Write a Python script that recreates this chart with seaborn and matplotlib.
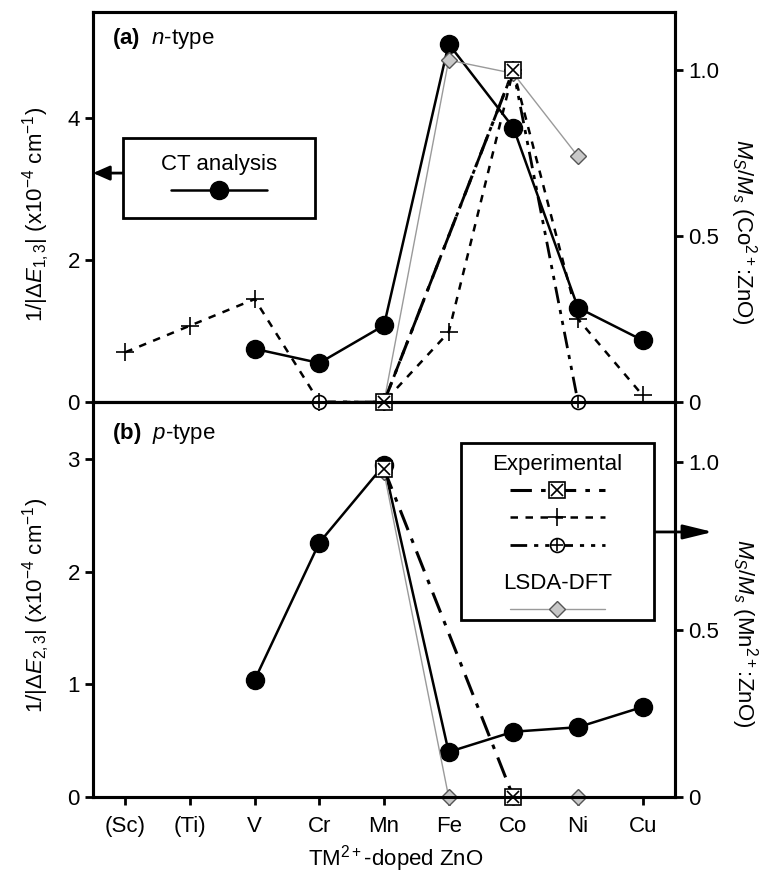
import numpy as np
import pandas as pd
import matplotlib
matplotlib.use("Agg")
import matplotlib.pyplot as plt
import seaborn as sns
from matplotlib.lines import Line2D
from matplotlib.patches import Rectangle
from matplotlib.legend_handler import HandlerTuple

# ---------------- data ----------------
elements = ['(Sc)', '(Ti)', 'V', 'Cr', 'Mn', 'Fe', 'Co', 'Ni', 'Cu']
nan = np.nan
# (a) n-type
ct_n        = [nan, nan, 0.75, 0.55, 1.08, 5.05, 3.87, 1.33, 0.87]
exp_box_n   = [nan, nan, nan, nan, 0.0, nan, 1.0, nan, nan]
exp_plus_n  = [0.15, 0.23, 0.31, 0.0, 0.0, 0.21, 1.0, 0.25, 0.02]
exp_oplus_n = [nan, nan, nan, 0.0, 0.0, nan, 1.0, 0.0, nan]
lsda_n      = [nan, nan, nan, nan, 0.0, 1.03, 0.99, 0.74, nan]
# (b) p-type
ct_p        = [nan, nan, 1.04, 2.26, 2.95, 0.40, 0.58, 0.62, 0.80]
exp_box_p   = [nan, nan, nan, nan, 0.98, nan, 0.0, nan, nan]
lsda_p      = [nan, nan, nan, nan, 0.97, 0.0, 0.0, 0.0, nan]

left_ticks_a = [0, 2, 4]
left_ticks_b = [0, 1, 2, 3]
right_ticks = [0, 0.5, 1.0]
right_ticklabels = ['0', '0.5', '1.0']

# ---------------- style ----------------
sns.set_style("ticks")
plt.rcParams['font.family'] = ['Liberation Sans', 'DejaVu Sans']
plt.rcParams['mathtext.fontset'] = 'custom'
plt.rcParams['mathtext.rm'] = 'Liberation Sans'
plt.rcParams['mathtext.it'] = 'Liberation Sans:italic'
plt.rcParams['mathtext.bf'] = 'Liberation Sans:bold'
for k in ['text.color', 'axes.labelcolor', 'xtick.color', 'ytick.color',
          'axes.edgecolor']:
    plt.rcParams[k] = 'black'
FS = 16

xpos = np.arange(len(elements))


def draw(ax, y, **kw):
    df = pd.DataFrame({'x': xpos, 'y': y}).dropna()
    sns.lineplot(data=df, x='x', y='y', ax=ax, errorbar=None, sort=False,
                 clip_on=False, **kw)


CT_KW = dict(color='black', linewidth=1.8, linestyle='-', marker='o',
             markersize=13, markerfacecolor='black', markeredgecolor='black',
             markeredgewidth=1)
BOX_LS = (0, (7, 3, 1.5, 3))
BOX_KW = dict(color='black', linewidth=2.2, linestyle=BOX_LS, marker='s',
              markersize=12, markerfacecolor='white', markeredgecolor='black',
              markeredgewidth=1.2)
BOXX_KW = dict(color='black', linestyle='none', marker='x', markersize=9,
               markeredgecolor='black', markeredgewidth=1.2)
PLUS_KW = dict(color='black', linewidth=1.8, linestyle=(0, (3, 3)), marker='+',
               markersize=13, markeredgecolor='black', markeredgewidth=1.2)
OPLUS_LS = (0, (6, 2.5, 1.5, 2.5, 1.5, 2.5))
OPLUS_KW = dict(color='black', linewidth=2.0, linestyle=OPLUS_LS, marker='o',
                markersize=10, markerfacecolor='white', markeredgecolor='black',
                markeredgewidth=1.2)
OPLUSX_KW = dict(color='black', linestyle='none', marker='+', markersize=9,
                 markeredgecolor='black', markeredgewidth=1.2)
LSDA_KW = dict(color='#9a9a9a', linewidth=1.0, linestyle='-', marker='D',
               markersize=8, markerfacecolor='#c8c8c8', markeredgecolor='#555555',
               markeredgewidth=1.0)

fig = plt.figure(figsize=(7.77, 8.82), dpi=100)
ax_a = fig.add_axes([0.1197, 0.5442, 0.749, 0.4422])
ax_b = fig.add_axes([0.1197, 0.0964, 0.749, 0.4478])
ax_a2 = ax_a.twinx()
ax_b2 = ax_b.twinx()

# ---- panel (a)
draw(ax_a, ct_n, **CT_KW)
draw(ax_a2, lsda_n, **LSDA_KW)
draw(ax_a2, exp_plus_n, **PLUS_KW)
draw(ax_a2, exp_oplus_n, **OPLUS_KW)
draw(ax_a2, exp_oplus_n, **OPLUSX_KW)
draw(ax_a2, exp_box_n, **BOX_KW)
draw(ax_a2, exp_box_n, **BOXX_KW)

# ---- panel (b)
draw(ax_b, ct_p, **CT_KW)
draw(ax_b2, lsda_p, **LSDA_KW)
draw(ax_b2, exp_box_p, **BOX_KW)
draw(ax_b2, exp_box_p, **BOXX_KW)

for ax, ax2, ylim, ylim2, lt in [(ax_a, ax_a2, 5.5, 1.175, left_ticks_a),
                                  (ax_b, ax_b2, 3.51, 1.18, left_ticks_b)]:
    ax.set_xlim(-0.5, 8.5)
    ax.set_ylim(0, ylim)
    ax2.set_ylim(0, ylim2)
    ax.set_yticks(lt)
    ax.set_yticklabels([str(t) for t in lt])
    ax2.set_yticks(right_ticks)
    ax2.set_yticklabels(right_ticklabels)
    for a in (ax, ax2):
        for s in a.spines.values():
            s.set_linewidth(2.2)
            s.set_color('black')
        a.tick_params(direction='out', length=6, width=2, labelsize=FS,
                      colors='black')

ax_a.set_xticks(xpos)
ax_a.tick_params(axis='x', bottom=False, labelbottom=False)
ax_a2.tick_params(axis='x', bottom=False, labelbottom=False)
ax_b.set_xticks(xpos)
ax_b.set_xticklabels(elements)
ax_b.tick_params(axis='x', pad=8)

ax_a.set_xlabel('')
ax_a2.set_xlabel('')
ax_b2.set_xlabel('')
ax_b.set_xlabel(r'TM$^{2+}$-doped ZnO', fontsize=FS)
ax_b.xaxis.set_label_coords(0.52, -0.118)

ax_a.set_ylabel(r'1/|$\Delta E_{1,3}$| (x10$^{-4}$ cm$^{-1}$)', fontsize=FS)
ax_a.yaxis.set_label_coords(-0.07, 0.48)
ax_b.set_ylabel(r'1/|$\Delta E_{2,3}$| (x10$^{-4}$ cm$^{-1}$)', fontsize=FS)
ax_b.yaxis.set_label_coords(-0.07, 0.486)
ax_a2.set_ylabel(r'$M_S/M_s$ (Co$^{2+}$:ZnO)', fontsize=FS, rotation=270,
                 va='center')
ax_a2.yaxis.set_label_coords(1.117, 0.436)
ax_b2.set_ylabel(r'$M_S/M_s$ (Mn$^{2+}$:ZnO)', fontsize=FS, rotation=270,
                 va='center')
ax_b2.yaxis.set_label_coords(1.12, 0.415)

ax_a2.text(0.033, 0.933, r'$\mathbf{(a)}$  $n$-type', transform=ax_a2.transAxes,
           fontsize=FS, va='center', ha='left')
ax_b2.text(0.033, 0.92, r'$\mathbf{(b)}$  $p$-type', transform=ax_b2.transAxes,
           fontsize=FS, va='center', ha='left')

# ---- legend (a): CT analysis
ax_a2.add_patch(Rectangle((0.0515, 0.472), 0.33, 0.205, transform=ax_a2.transAxes,
                          facecolor='white', edgecolor='black', lw=2.0,
                          zorder=4, clip_on=False))
h_ct = Line2D([], [], **CT_KW)
leg_ct = ax_a2.legend([h_ct], [''], title='CT analysis', title_fontsize=FS,
                      fontsize=FS, frameon=False, loc='center',
                      bbox_to_anchor=(0.2165, 0.5745), handlelength=4.3,
                      handletextpad=0, borderpad=0, labelspacing=0.3)
leg_ct.set_zorder(5)
ax_a2.annotate('', xy=(0.0, 0.587), xytext=(0.0515, 0.587),
               xycoords='axes fraction', textcoords='axes fraction',
               arrowprops=dict(arrowstyle='-|>,head_length=0.5,head_width=0.22',
                               lw=2, color='black', shrinkA=0, shrinkB=0,
                               mutation_scale=20),
               annotation_clip=False)

# ---- legend (b): Experimental / LSDA-DFT
ax_b2.add_patch(Rectangle((0.632, 0.448), 0.332, 0.448, transform=ax_b2.transAxes,
                          facecolor='white', edgecolor='black', lw=2.0,
                          zorder=4, clip_on=False))
h_box = (Line2D([], [], **BOX_KW), Line2D([], [], **BOXX_KW))
h_plus = Line2D([], [], **PLUS_KW)
h_oplus = (Line2D([], [], **OPLUS_KW), Line2D([], [], **OPLUSX_KW))
h_lsda = Line2D([], [], **LSDA_KW)
leg_exp = ax_b2.legend([h_box, h_plus, h_oplus], ['', '', ''], title='Experimental',
                       title_fontsize=FS, fontsize=FS, frameon=False, loc='center',
                       bbox_to_anchor=(0.798, 0.737), handlelength=4.3,
                       handletextpad=0, borderpad=0, labelspacing=0.3,
                       handler_map={tuple: HandlerTuple(ndivide=1)})
leg_exp.set_zorder(5)
ax_b2.add_artist(leg_exp)
leg_lsda = ax_b2.legend([h_lsda], [''], title='LSDA-DFT', title_fontsize=FS,
                        fontsize=FS, frameon=False, loc='center',
                        bbox_to_anchor=(0.798, 0.506), handlelength=4.3,
                        handletextpad=0, borderpad=0, labelspacing=0.3)
leg_lsda.set_zorder(5)
ax_b2.annotate('', xy=(1.065, 0.671), xytext=(0.964, 0.671),
               xycoords='axes fraction', textcoords='axes fraction',
               arrowprops=dict(arrowstyle='-|>,head_length=0.9,head_width=0.22',
                               lw=2, color='black', shrinkA=0, shrinkB=0,
                               mutation_scale=20),
               annotation_clip=False)

fig.savefig('out.png', dpi=100)
